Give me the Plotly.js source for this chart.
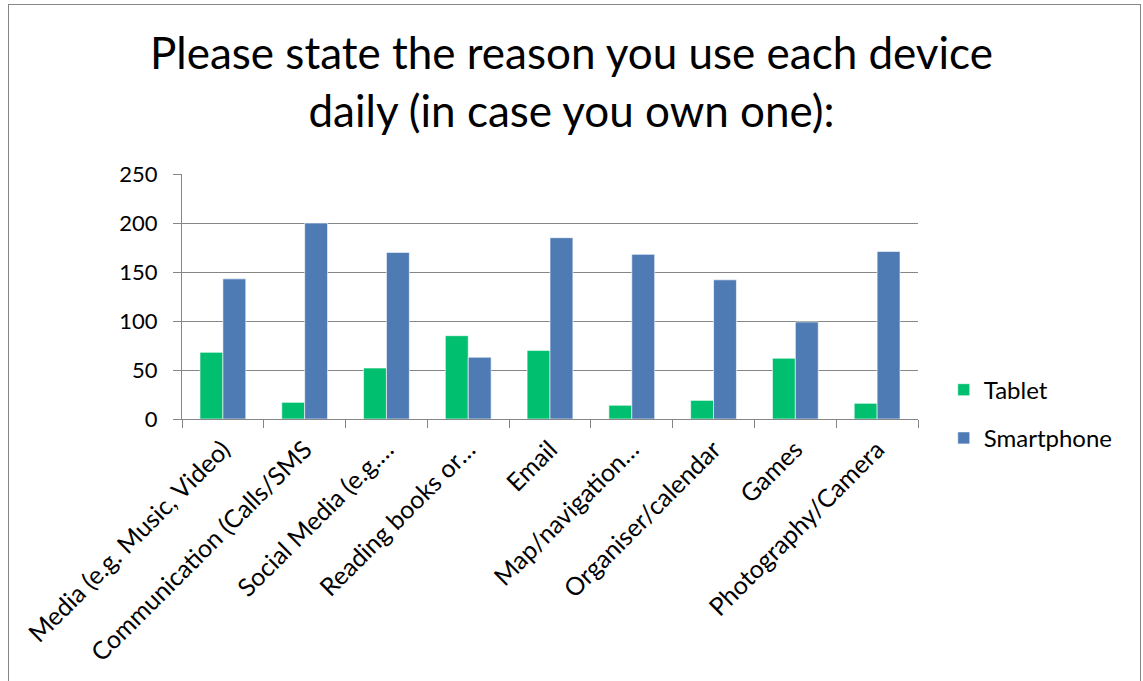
<!DOCTYPE html>
<html>
<head>
<meta charset="utf-8">
<script src="https://cdn.plot.ly/plotly-3.0.1.min.js"></script>
<style>
html,body{margin:0;padding:0;background:#fff;}
#wrap{position:relative;width:1143px;height:681px;}
#chart{width:1143px;height:681px;}
#frame{position:absolute;left:8px;top:4px;width:1131px;height:677px;
  border-left:1px solid #868686;border-top:1px solid #868686;border-right:1px solid #868686;
  pointer-events:none;}
</style>
</head>
<body>
<div id="wrap">
<div id="chart"></div>
<div id="frame"></div>
</div>
<script>
const categories = [
  "Media (e.g. Music, Video)",
  "Communication (Calls/SMS",
  "Social Media (e.g.…",
  "Reading books or…",
  "Email",
  "Map/navigation…",
  "Organiser/calendar",
  "Games",
  "Photography/Camera"
];
const tablet = [68, 17, 52, 85, 70, 14, 19, 62, 16];
const smartphone = [143, 200, 170, 63, 185, 168, 142, 99, 171];
const yTicks = [0, 50, 100, 150, 200, 250];

const FONT = "Lato, 'Open Sans', sans-serif";

const traces = [
  {type: "bar", name: "Tablet", x: categories, y: tablet, legendgroup: "a",
   marker: {color: "#00BF6F", line: {color: "rgba(255,255,255,0.6)", width: 1}}},
  {type: "bar", name: "Smartphone", x: categories, y: smartphone, legendgroup: "b",
   marker: {color: "#4F7BB5", line: {color: "rgba(255,255,255,0.6)", width: 1}}}
];

const layout = {
  width: 1143, height: 681,
  margin: {l: 182, r: 225, t: 174, b: 262, pad: 0},
  paper_bgcolor: "rgba(0,0,0,0)", plot_bgcolor: "#fff",
  font: {family: FONT, color: "#000"},
  title: {
    text: "Please state the reason you use each device<br>daily (in case you own one):",
    font: {family: FONT, size: 44, color: "#000"},
    x: 0.5, xanchor: "center", y: 0.898, yanchor: "middle"
  },
  barmode: "group", bargap: 0.44, bargroupgap: 0,
  showlegend: true,
  legend: {
    x: 1.035, xanchor: "left", y: 0.02, yanchor: "middle",
    font: {family: FONT, size: 24, color: "#000"},
    tracegroupgap: 14, bgcolor: "rgba(0,0,0,0)"
  },
  xaxis: {
    type: "category", tickangle: -45,
    tickfont: {family: FONT, size: 25, color: "#000"},
    showline: true, linecolor: "#868686", linewidth: 1,
    ticks: "outside", tickson: "boundaries", ticklen: 8, tickcolor: "#868686",
    ticklabelstandoff: 5,
    showgrid: false, zeroline: false, automargin: false
  },
  yaxis: {
    range: [0, 250], tickvals: yTicks, ticktext: yTicks.map(String),
    tickfont: {family: FONT, size: 22, color: "#000"},
    showline: true, linecolor: "#868686", linewidth: 1,
    ticks: "outside", ticklen: 8, tickcolor: "#868686",
    ticklabelstandoff: 11,
    showgrid: true, gridcolor: "#868686", gridwidth: 1,
    zeroline: false, automargin: false
  }
};

Plotly.newPlot("chart", traces, layout, {displayModeBar: false, staticPlot: true});
</script>
</body>
</html>
